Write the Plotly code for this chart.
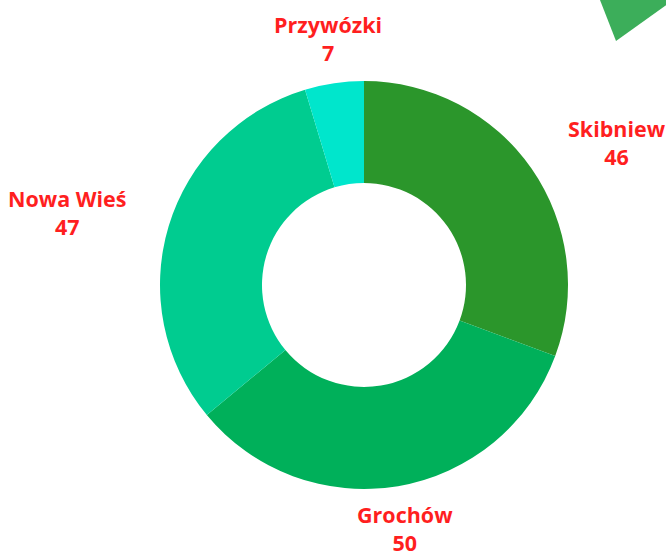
import math
import plotly.graph_objects as go

labels = ["Skibniew", "Grochów", "Nowa Wieś", "Przywózki"]
values = [46, 50, 47, 7]
colors = ["#2b962b", "#00b05a", "#00cc90", "#00e6cc"]

W, H = 666, 554
cx, cy, R = 364, 269, 204  # pie centre (px from left / bottom) and radius
label_r = 248

fig = go.Figure()
fig.add_trace(go.Pie(
    labels=labels, values=values, hole=0.5, sort=False,
    direction="clockwise", rotation=0,
    marker=dict(colors=colors, line=dict(width=0)),
    textinfo="none", hoverinfo="label+value",
    domain=dict(x=[(cx - R) / W, (cx + R) / W], y=[(cy - R) / H, (cy + R) / H]),
))

# labels outside the ring, placed at the mid angle of each slice
total = sum(values)
acc = 0
annotations = []
for lab, val in zip(labels, values):
    mid = (acc + val / 2) / total * 2 * math.pi
    acc += val
    s, c = math.sin(mid), math.cos(mid)
    if abs(s) < 0.3:
        xa = "center"
    elif s > 0:
        xa = "left"
    else:
        xa = "right"
    annotations.append(dict(
        x=(cx + (label_r - 3 * abs(s)) * s) / W, y=(cy + 1 + label_r * c) / H,
        xref="paper", yref="paper", xanchor=xa, yanchor="middle",
        text=f"<b>{lab}</b><br><b>{val}</b>", showarrow=False, align="center",
        font=dict(family="Open Sans", size=21.5, color="#ff1f1f"),
    ))

fig.update_layout(
    width=W, height=H, showlegend=False,
    margin=dict(l=0, r=0, t=0, b=0),
    paper_bgcolor="white", plot_bgcolor="white",
    annotations=annotations,
    shapes=[dict(
        type="path", xref="paper", yref="paper",
        path=f"M {600/W} {1} L {616/W} {1-41/H} L {690/W} {1+12/H} Z",
        fillcolor="#3cae5a", line=dict(width=0), layer="above",
    )],
)

# drop the default page margin so the figure fills the window
fig.write_html("out.html", config={"displayModeBar": False},
               post_script="document.body.style.margin='0';")
